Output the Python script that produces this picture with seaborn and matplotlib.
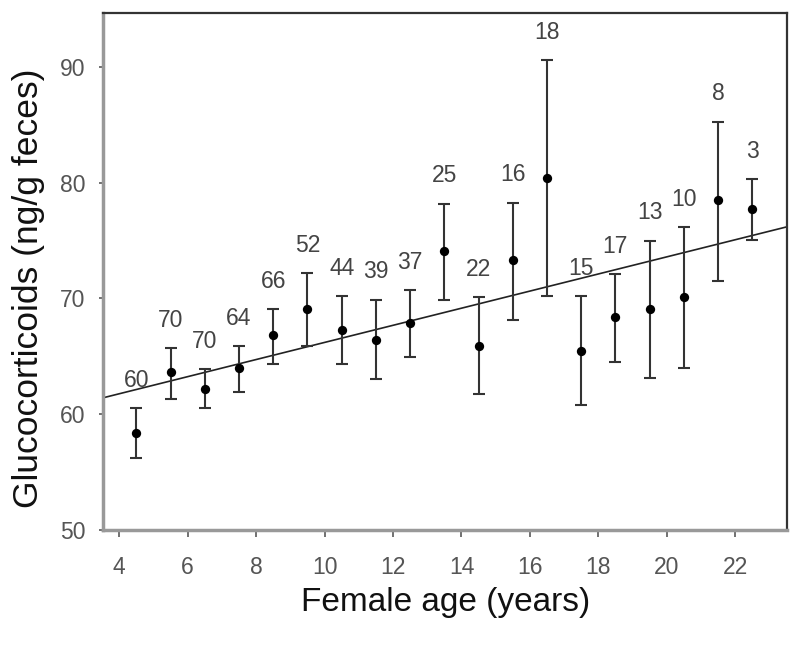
import numpy as np
import pandas as pd
import seaborn as sns
import matplotlib
matplotlib.use('Agg')
import matplotlib.pyplot as plt

#---------------------------------------data-----------------------------------------------#
age = [4.5, 5.5, 6.5, 7.5, 8.5, 9.5, 10.5, 11.5, 12.5, 13.5,
       14.5, 15.5, 16.5, 17.5, 18.5, 19.5, 20.5, 21.5, 22.5]
gc_mean = [58.4, 63.6, 62.2, 64.0, 66.8, 69.1, 67.3, 66.4, 67.9, 74.1,
           65.9, 73.3, 80.4, 65.5, 68.4, 69.1, 70.1, 78.5, 77.7]
gc_upper = [60.5, 65.7, 63.9, 65.9, 69.1, 72.2, 70.2, 69.9, 70.7, 78.2,
            70.1, 78.3, 90.6, 70.2, 72.1, 75.0, 76.2, 85.3, 80.3]
gc_lower = [56.2, 61.3, 60.5, 61.9, 64.3, 65.9, 64.3, 63.0, 64.9, 69.9,
            61.7, 68.1, 70.2, 60.8, 64.5, 63.1, 64.0, 71.5, 75.1]
n_counts = [60, 70, 70, 64, 66, 52, 44, 39, 37, 25,
            22, 16, 18, 15, 17, 13, 10, 8, 3]

# fitted regression line
fit_slope = 0.74
fit_intercept = 58.8

xticks = [4, 6, 8, 10, 12, 14, 16, 18, 20, 22]
yticks = [50, 60, 70, 80, 90]

df = pd.DataFrame({'age': age, 'mean': gc_mean, 'upper': gc_upper,
                   'lower': gc_lower, 'n': n_counts})

#---------------------------------------plot-----------------------------------------------#
sns.set_style('white')
plt.rcParams['font.family'] = ['Liberation Sans', 'DejaVu Sans']

fig = plt.figure(figsize=(8, 6.46), dpi=100)
ax = fig.add_axes([0.129, 0.18, 0.855, 0.80])

xlim = (3.53, 23.52)
ax.set_xlim(xlim)
ax.set_ylim(50, 94.7)

# regression line
line_x = np.array(xlim)
sns.lineplot(x=line_x, y=fit_intercept + fit_slope * line_x, ax=ax,
             color='#222222', linewidth=1.2, zorder=2)

# error bars
yerr = [df['mean'] - df['lower'], df['upper'] - df['mean']]
ax.errorbar(df['age'], df['mean'], yerr=yerr, fmt='none', ecolor='#333333',
            elinewidth=1.5, capsize=4.5, capthick=1.5, zorder=3)

sns.scatterplot(data=df, x='age', y='mean', ax=ax, color='black', s=45,
                edgecolor='black', linewidth=0, zorder=4)

# sample sizes
for _, r in df.iterrows():
    ax.text(r['age'], r['upper'] + 2.4, str(int(r['n'])), ha='center', va='center',
            fontsize=16.5, color='#444444')

ax.set_xticks(xticks)
ax.set_yticks(yticks)
ax.tick_params(axis='both', labelsize=16.5, labelcolor='#555555', color='#666666',
               direction='out', length=5, width=1.3, bottom=True, left=True)
ax.tick_params(axis='y', length=3, pad=10)
ax.tick_params(axis='x', pad=14)

ax.set_xlabel('Female age (years)', fontsize=24, color='#111111', labelpad=6)
ax.set_ylabel('Glucocorticoids (ng/g feces)', fontsize=25.5, color='#111111')
ax.yaxis.set_label_coords(-0.085, 0.468)

for side in ['left', 'bottom']:
    ax.spines[side].set_color('#999999')
    ax.spines[side].set_linewidth(2.5)
for side in ['top', 'right']:
    ax.spines[side].set_color('#333333')
    ax.spines[side].set_linewidth(1.6)

fig.savefig('out.png', dpi=100)
